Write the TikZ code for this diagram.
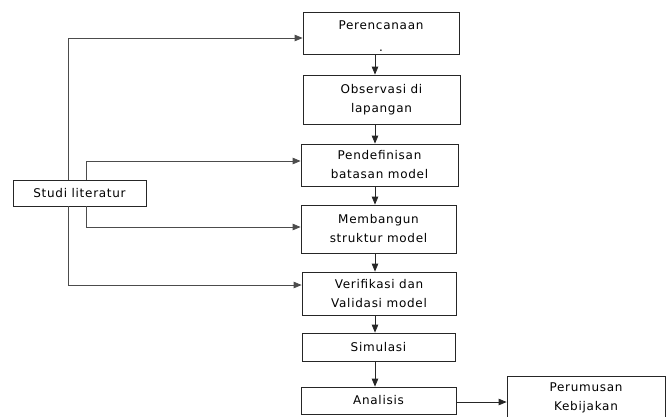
\documentclass[tikz,border=0pt]{standalone}
\usepackage{fontspec}
\setmainfont{DejaVu Sans}[LetterSpace=6]
\usetikzlibrary{arrows.meta}
\begin{document}
\begin{tikzpicture}[x=1pt,y=-1pt,
  box/.style={draw=black!85, line width=0.8pt, rectangle, inner sep=0pt, align=center,
    font=\fontsize{12}{19}\selectfont},
  conn/.style={draw=black!70, line width=0.8pt, -{Triangle[length=8pt,width=6.5pt]}},
  flow/.style={draw=black!85, line width=0.8pt, -{Triangle[length=8pt,width=6.5pt]}}]
\useasboundingbox (0,0) rectangle (668,416);
\node[box, minimum width=156pt, minimum height=42pt] (per) at (381,33) {\vphantom{.}\\[-5pt]Perencanaan\\[3pt].};
\node[box, minimum width=157pt, minimum height=49pt] (obs) at (381.5,99.5) {Observasi di\\lapangan};
\node[box, minimum width=157pt, minimum height=42pt] (pen) at (379.5,165) {Pendefinisan\\batasan model};
\node[box, minimum width=155pt, minimum height=48pt] (mem) at (378.5,229) {Membangun\\struktur model};
\node[box, minimum width=154pt, minimum height=43pt] (ver) at (379,293.5) {Verifikasi dan\\Validasi model};
\node[box, minimum width=153pt, minimum height=28pt] (sim) at (378.5,347) {Simulasi};
\node[box, minimum width=155pt, minimum height=27pt] (ana) at (378.5,400.5) {Analisis};
\node[box, minimum width=158pt, minimum height=44pt] (rum) at (586,398) {Perumusan\\Kebijakan};
\node[box, minimum width=133pt, minimum height=26pt] (stu) at (79.5,193) {Studi literatur};
\coordinate (ax) at (375,0);
\coordinate (l1) at (68,38);
\coordinate (l2) at (86,161);
\coordinate (l3) at (86,227);
\coordinate (l4) at (68,285);
\coordinate (l5) at (0,402);
\draw[flow] (per.south -| ax) -- (obs.north -| ax);
\draw[flow] (obs.south -| ax) -- (pen.north -| ax);
\draw[flow] (pen.south -| ax) -- (mem.north -| ax);
\draw[flow] (mem.south -| ax) -- (ver.north -| ax);
\draw[flow] (ver.south -| ax) -- (sim.north -| ax);
\draw[flow] (sim.south -| ax) -- (ana.north -| ax);
\draw[flow] (ana.east |- l5) -- (rum.west |- l5);
\draw[conn] (stu.north -| l1) |- (per.west |- l1);
\draw[conn] (stu.north -| l2) |- (pen.west |- l2);
\draw[conn] (stu.south -| l3) |- (mem.west |- l3);
\draw[conn] (stu.south -| l4) |- (ver.west |- l4);
\end{tikzpicture}
\end{document}
